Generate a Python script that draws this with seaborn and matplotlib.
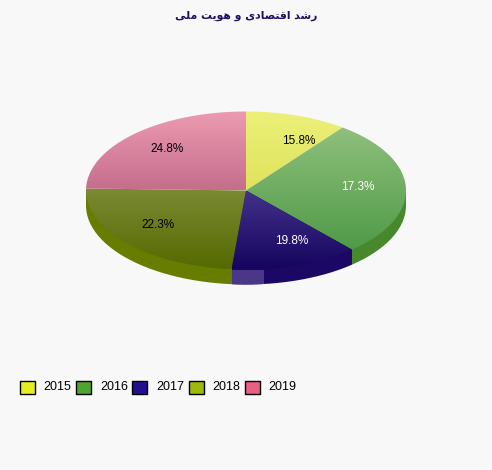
import matplotlib.pyplot as plt
import numpy as np
import seaborn as sns
from matplotlib.colors import to_rgb
from matplotlib.patches import Patch, PathPatch, Rectangle
from matplotlib.path import Path

# Data
years = ['2015', '2016', '2017', '2018', '2019']
shares = [15.8, 17.3, 19.8, 22.3, 24.8]

# Persian title as presentation forms, matplotlib does not shape or reverse Arabic
title_words = '\uFEAD\uFEB7\uFEAA \uFE8D\uFED7\uFE98\uFEBC\uFE8E\uFEA9\uFBFC \uFEED \uFEEB\uFEEE\uFBFE\uFE96 \uFEE3\uFEE0\uFBFD'

# Colours
bg = '#f8f8f8'
legend_colors = ['#e4ee20', '#4fa42f', '#201090', '#9fb80c', '#ea5f85']
top_light = ['#ecf078', '#8fc07c', '#43318a', '#7b8a34', '#ec9ab2']
top_dark = ['#dfe35c', '#4f9a48', '#16055e', '#556a00', '#c56e8c']
side_colors = ['#c4cc20', '#48882c', '#1a0864', '#667d00', '#b04a6c']
label_colors = ['black', 'white', 'white', 'black', 'black']
label_xy = [(299, 141.5), (358, 187.5), (292, 241.5), (158, 225.5), (167, 149.5)]

# Ellipse of the pie in pixels
cx, cy = 246, 190.5
rx, ry = 160, 79
depth = 15

sns.set_theme(style='white', rc={'figure.facecolor': bg, 'axes.facecolor': bg})
plt.rcParams['font.family'] = ['Liberation Sans', 'DejaVu Sans']

fig = plt.figure(figsize=(4.92, 4.70), dpi=100)
ax = fig.add_axes([0, 0, 1, 1])


def rim(theta):
    # point of the ellipse seen at a real screen angle
    t = np.radians(theta)
    r = rx * ry / np.sqrt((ry * np.cos(t)) ** 2 + (rx * np.sin(t)) ** 2)
    return cx + r * np.cos(t), cy + r * np.sin(t)


# y axis is flipped below, so counterclock here is clockwise on screen
wedges, _ = ax.pie(shares, startangle=-90, counterclock=True, center=(cx, cy),
                   radius=rx + 40, colors=legend_colors)
thetas = [(w.theta1, w.theta2) for w in wedges]
for w in wedges:
    w.set_visible(False)

# Outline of top face and side wall together
arc = np.linspace(0, 180, 120)
low_x, low_y = rx * np.cos(np.radians(arc)) + cx, ry * np.sin(np.radians(arc)) + cy + depth
up_x, up_y = rx * np.cos(np.radians(arc + 180)) + cx, ry * np.sin(np.radians(arc + 180)) + cy
outline = Path(np.column_stack([np.r_[low_x, up_x], np.r_[low_y, up_y]]))
outline_patch = PathPatch(outline, transform=ax.transData, fc='none', ec='none')
ax.add_patch(outline_patch)

# Side wall, split where the slices meet the front rim
edges = [rim(t[1])[0] for t in thetas]
side_parts = [(edges[1], cx + rx + 1, side_colors[1]),
              (edges[2], edges[1], side_colors[2]),
              (cx - rx - 1, edges[2], side_colors[3])]
for x0, x1, col in side_parts:
    rect = Rectangle((x0, cy), x1 - x0, ry + depth + 5, fc=col, ec='none')
    ax.add_patch(rect)
    rect.set_clip_path(outline_patch)

# Top face with a vertical gradient inside each slice
for (t1, t2), c1, c2 in zip(thetas, top_light, top_dark):
    xs, ys = rim(np.linspace(t1, t2, 100))
    poly = np.column_stack([np.r_[cx, xs, cx], np.r_[cy, ys, cy]])
    clip = PathPatch(Path(poly), transform=ax.transData, fc='none', ec='none')
    ax.add_patch(clip)
    ramp = np.linspace(np.array(to_rgb(c1)), np.array(to_rgb(c2)), 64)[:, None, :]
    img = ax.imshow(ramp, extent=(poly[:, 0].min(), poly[:, 0].max(),
                                  poly[:, 1].max(), poly[:, 1].min()),
                    origin='upper', aspect='auto', interpolation='bilinear', zorder=2)
    img.set_clip_path(clip)

# Pale selection block on the front rim
block = Rectangle((edges[2], cy + ry + 0.5), 32, depth + 2, fc='#4b3787', ec='none', zorder=3)
ax.add_patch(block)
block.set_clip_path(outline_patch)

# Percent labels
for share, (x, y), col in zip(shares, label_xy, label_colors):
    ax.text(x, y, f'{share}%', color=col, fontsize=8.5, ha='center', va='center', zorder=4)

ax.text(246, 16, title_words[::-1], color='#1c1064', fontsize=7.8, fontweight='bold',
        family='DejaVu Sans', ha='center', va='center')

handles = [Patch(fc=c, ec='black', lw=1) for c in legend_colors]
leg = ax.legend(handles, years, loc='upper left', bbox_to_anchor=(20, 380.5),
                bbox_transform=ax.transData, ncol=5, frameon=False, fontsize=9,
                borderaxespad=0, borderpad=0, handlelength=1.2, handleheight=1.25,
                handletextpad=0.7, columnspacing=0.36, labelcolor='black')
for t in leg.get_texts():
    t.set_y(1.5)

ax.set_aspect('auto')
ax.set_xlim(0, 492)
ax.set_ylim(470, 0)
ax.axis('off')

fig.savefig('out.png', dpi=100, facecolor=bg)
